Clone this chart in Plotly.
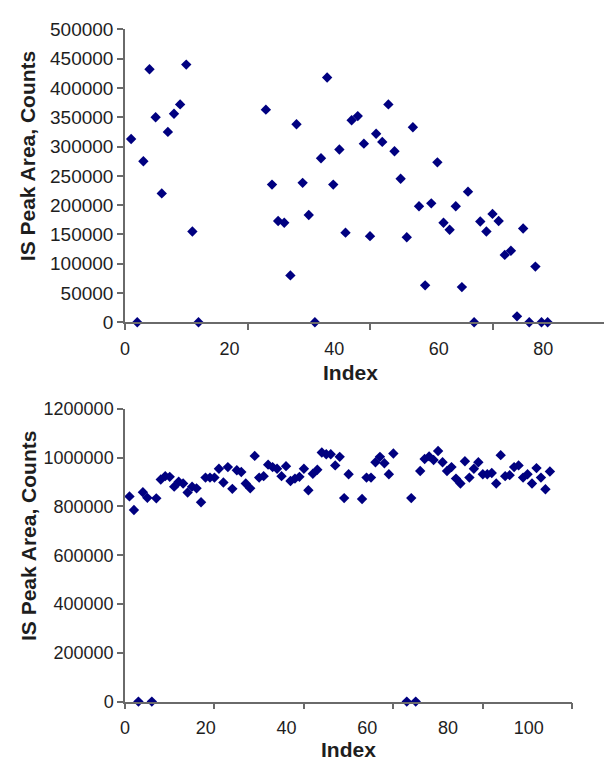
import plotly.graph_objects as go

# ---- Run 1: internal-standard peak area per injection ----
run1_index = [1, 2, 3, 4, 5, 6, 7, 8, 9, 10, 11, 12,
              23, 24, 25, 26, 27, 28, 29, 30, 31, 32, 33, 34, 35, 36, 37, 38,
              39, 40, 41, 42, 43, 44, 45, 46, 47, 48, 49, 50, 51, 52, 53, 54,
              55, 56, 57, 58, 59, 60, 61, 62, 63, 64, 65, 66, 67, 68, 69]
run1_area = [313000, 0, 275000, 432000, 350000, 220000, 325000, 356000, 372000, 440000, 155000, 0,
             363000, 235000, 173000, 170000, 80000, 338000, 238000, 183000, 0, 280000, 418000, 235000,
             295000, 153000, 345000, 352000, 305000, 147000, 322000, 308000, 372000, 292000, 245000,
             145000, 333000, 198000, 63000, 203000, 273000, 170000, 158000, 198000, 60000, 223000, 0,
             172000, 155000, 185000, 173000, 115000, 122000, 10000, 160000, 0, 95000, 0, 0]

# ---- Run 2 ----
run2_index = list(range(1, 51)) + list(range(53, 61)) + list(range(63, 96))
run2_area = [841000, 785000, 0, 858000, 835000, 0, 833000, 910000, 924000, 921000,
             881000, 901000, 894000, 857000, 881000, 874000, 817000, 918000, 918000, 918000,
             954000, 898000, 961000, 872000, 948000, 941000, 894000, 874000, 1007000, 918000,
             924000, 971000, 961000, 954000, 924000, 965000, 904000, 914000, 921000, 954000,
             866000, 934000, 950000, 1021000, 1014000, 1014000, 968000, 1003000, 834000, 932000,
             830000, 918000, 918000, 981000, 1003000, 977000, 932000, 1017000,
             0, 834000, 0, 945000, 994000, 1005000, 990000, 1027000, 981000, 945000, 961000,
             914000, 894000, 985000, 918000, 954000, 981000, 932000, 932000, 937000, 894000,
             1010000, 924000, 928000, 961000, 968000, 918000, 932000, 894000, 957000, 918000,
             870000, 943000]

# printed tick labels
run1_xlabels = [0, 20, 40, 60, 80]
run2_xlabels = [0, 20, 40, 60, 80, 100]
run1_yticks = list(range(0, 500001, 50000))
run2_yticks = list(range(0, 1200001, 200000))

W, H = 604, 769
FONT = "Liberation Sans, Arial, sans-serif"
TXT = "#1e1e1e"
LINE = "#6a6a6a"
NAVY = "#000080"

fig = go.Figure()
marker = dict(symbol="diamond", size=8, color=NAVY, line=dict(width=0))
fig.add_trace(go.Scatter(x=run1_index, y=run1_area, mode="markers", marker=marker,
                         cliponaxis=False, xaxis="x", yaxis="y", showlegend=False))
fig.add_trace(go.Scatter(x=run2_index, y=run2_area, mode="markers", marker=marker,
                         cliponaxis=False, xaxis="x2", yaxis="y2", showlegend=False))

x0 = 121 / W
top_dom = [1 - 321 / H, 1 - 20 / H]
bot_dom = [1 - 711 / H, 1 - 410 / H]

common_line = dict(showline=True, linecolor=LINE, linewidth=1.5, showgrid=False,
                   zeroline=False, ticks="outside", tickcolor=LINE, tickwidth=1.5)

fig.update_layout(
    width=W, height=H, margin=dict(l=0, r=0, t=0, b=0),
    paper_bgcolor="white", plot_bgcolor="white",
    font=dict(family=FONT, color=TXT),
    # top panel: tick marks every 20 on the index scale
    xaxis=dict(domain=[x0, 1], range=[0, 78.2], tickvals=[0, 20, 40, 60, 80],
               showticklabels=False, ticklen=6, anchor="y", **common_line),
    xaxis3=dict(overlaying="x", anchor="y", side="bottom", range=[0, 91.6],
                tickvals=run1_xlabels, ticktext=[str(v) for v in run1_xlabels],
                showline=False, showgrid=False, zeroline=False,
                ticks="outside", ticklen=10, tickcolor="rgba(0,0,0,0)",
                tickfont=dict(size=18, family=FONT, color=TXT)),
    yaxis=dict(domain=top_dom, range=[0, 500000], tickvals=run1_yticks, tickformat="d",
               ticklen=6, anchor="x", tickfont=dict(size=19, family=FONT, color=TXT),
               **common_line),
    # bottom panel
    xaxis2=dict(domain=[x0, 572 / W], range=[0, 100], tickvals=[0, 20, 40, 60, 80, 100],
                showticklabels=False, ticklen=6, anchor="y2", **common_line),
    xaxis4=dict(overlaying="x2", anchor="y2", side="bottom", range=[0, 110.8],
                tickvals=run2_xlabels, ticktext=[str(v) for v in run2_xlabels],
                showline=False, showgrid=False, zeroline=False,
                ticks="outside", ticklen=10, tickcolor="rgba(0,0,0,0)",
                tickfont=dict(size=18, family=FONT, color=TXT)),
    yaxis2=dict(domain=bot_dom, range=[0, 1200000], tickvals=run2_yticks, tickformat="d",
                ticklen=6, anchor="x2", tickfont=dict(size=18, family=FONT, color=TXT),
                **common_line),
)

# the label axes need a (hidden) trace to be drawn
fig.add_trace(go.Scatter(x=[None], y=[None], xaxis="x3", yaxis="y", showlegend=False))
fig.add_trace(go.Scatter(x=[None], y=[None], xaxis="x4", yaxis="y2", showlegend=False))

title_font = dict(family=FONT, size=21, color=TXT)
ann = [
    dict(text="<b>IS Peak Area, Counts</b>", x=23 / W, y=1 - 150.5 / H, textangle=-90),
    dict(text="<b>IS Peak Area, Counts</b>", x=23 / W, y=1 - 541 / H, textangle=-90),
    dict(text="<b>Index</b>", x=348 / W, y=1 - 373 / H),
    dict(text="<b>Index</b>", x=346 / W, y=1 - 760 / H),
]
for a in ann:
    fig.add_annotation(xref="paper", yref="paper", showarrow=False,
                       xanchor="center", yanchor="middle", font=title_font, **a)

fig.write_html("out.html")
